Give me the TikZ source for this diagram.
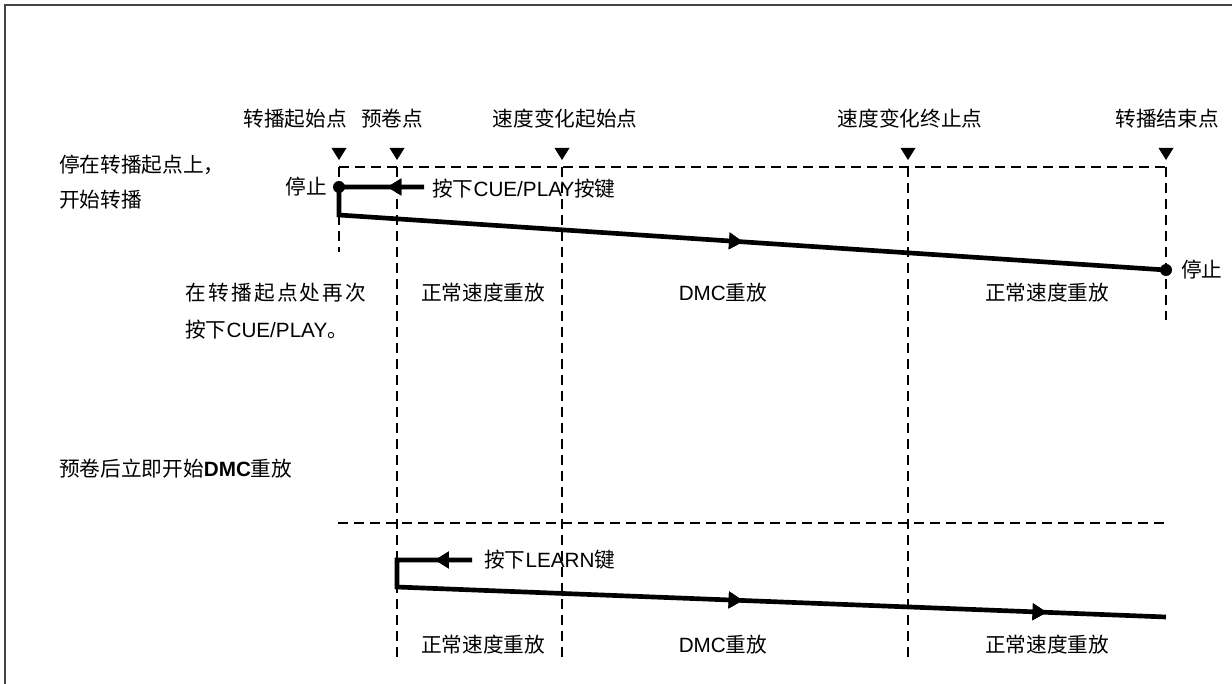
\documentclass[tikz,border=0pt]{standalone}
\usepackage{fontspec}
\setmainfont{Noto Sans CJK SC}
\newfontfamily\lat{Liberation Sans}
\newfontfamily\cjkspaced[LetterSpace=11]{Noto Sans CJK SC}
\usetikzlibrary{arrows.meta,decorations.markings}
\definecolor{framecol}{HTML}{444444}
\tikzset{
  lbl/.style={inner sep=0pt, font=\fontsize{15.5pt}{19pt}\selectfont},
  guide/.style={line width=1.2pt, dash pattern=on 7.5pt off 4.5pt},
  trace/.style={line width=3.5pt, line join=miter},
  tip/.style={decoration={markings, mark=at position #1 with {\arrow{Triangle[length=10.5pt,width=12pt]}}}, postaction={decorate}},
  dotnode/.style={circle, fill=black, inner sep=0pt, minimum size=9pt},
  tri/.style={fill=black}
}
\begin{document}
\begin{tikzpicture}[x=0.75pt, y=-0.75pt]
\useasboundingbox (0,0) rectangle (1232,684);
% frame
\draw[framecol, line width=1.5pt] (5,684) -- (5,5) -- (1232,5);

% guide coordinates
\coordinate (gA) at (339,167);
\coordinate (gB) at (397,167);
\coordinate (gC) at (562,167);
\coordinate (gD) at (908,167);
\coordinate (gE) at (1166,167);

% top labels
\node[lbl, anchor=east] (tA) at (347,119) {转播起始点};
\node[lbl] (tB) at (392,119) {预卷点};
\node[lbl] (tC) at (565,119) {速度变化起始点};
\node[lbl] (tD) at (910,119) {速度变化终止点};
\node[lbl] (tE) at (1167,119) {转播结束点};

% triangles
\foreach \xx in {339,397,562,908,1166}{
  \fill[tri] (\xx-7.5,148) -- (\xx+7.5,148) -- (\xx,160) -- cycle;
}

% dashed guides
\draw[guide] (gA) -- (gE);
\draw[guide] (gA) -- (339,252);
\draw[guide] (gB) -- (397,657);
\draw[guide] (gC) -- (562,657);
\draw[guide] (gD) -- (908,657);
\draw[guide] (gE) -- (1166,320);
\draw[guide] (338,523) -- (1166,523);

% upper trace
\coordinate (uh) at (424,187);
\coordinate (us) at (339,187);
\coordinate (ub) at (339,215);
\coordinate (ue) at (1166,270);
\draw[trace, tip=0.039, tip=0.55] (uh) -- (us) -- (ub) -- (ue);
\node[dotnode] (dotS) at (us) {};
\node[dotnode] (dotE) at (ue) {};

% lower trace
\coordinate (lh) at (472,560);
\coordinate (ls) at (397,560);
\coordinate (lb) at (397,587);
\coordinate (le) at (1166,617);
\draw[trace, tip=0.0425, tip=0.514, tip=0.863] (lh) -- (ls) -- (lb) -- (le);

% texts
\node[lbl, anchor=west] (n1) at (59,165) {停在转播起点上，};
\node[lbl, anchor=west] (n2) at (59,200) {开始转播};
\node[lbl, anchor=east] (stopL) at (327,187) {停止};
\node[lbl, anchor=west] (press1) at (432,189) {按下{\lat CUE/PLAY}按键};
\node[lbl, anchor=west] (stopR) at (1181,270) {停止};
\node[lbl, anchor=west] (n3) at (185,293) {\cjkspaced 在转播起点处再次};
\node[lbl, anchor=west] (n4) at (185,330) {按下{\lat CUE/PLAY}。};
\node[lbl] (r1) at (483,293) {正常速度重放};
\node[lbl] (r2) at (723,293) {{\lat DMC}重放};
\node[lbl] (r3) at (1047,293) {正常速度重放};
\node[lbl, anchor=west] (n5) at (59,469) {预卷后立即开始{\lat\bfseries DMC}重放};
\node[lbl, anchor=west] (press2) at (484,560) {按下{\lat LEARN}键};
\node[lbl] (b1) at (483,645) {正常速度重放};
\node[lbl] (b2) at (723,645) {{\lat DMC}重放};
\node[lbl] (b3) at (1047,645) {正常速度重放};
\end{tikzpicture}
\end{document}
